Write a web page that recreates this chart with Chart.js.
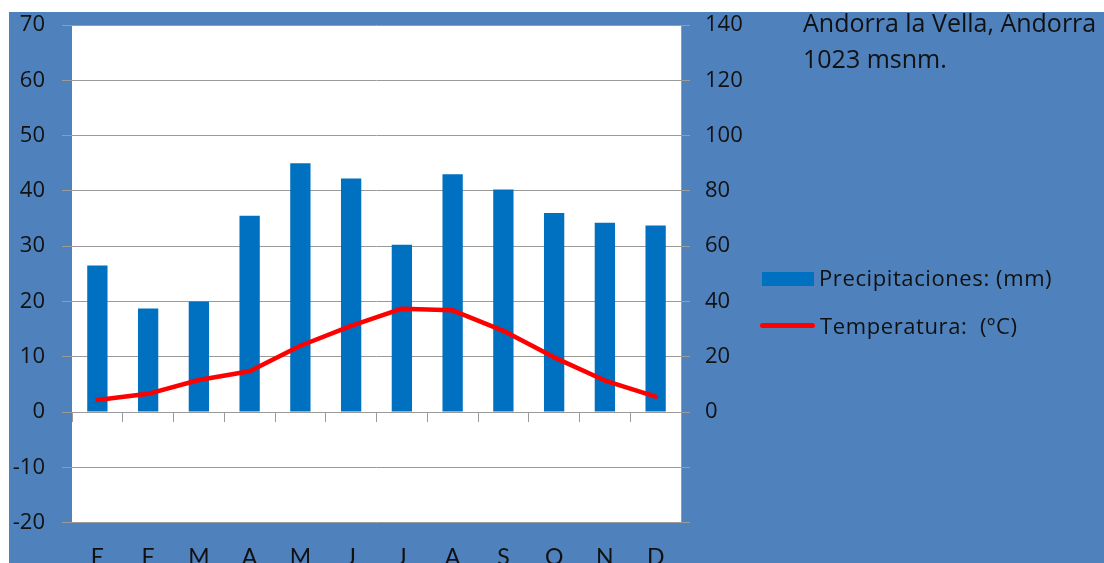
<!DOCTYPE html>
<html>
<head>
<meta charset="utf-8">
<script src="https://cdn.jsdelivr.net/npm/chart.js@4.4.0/dist/chart.umd.min.js"></script>
<style>
    body { margin: 0; background: #ffffff; width: 1104px; height: 563px; overflow: hidden; font-family: "Open Sans", Lato, sans-serif; }
    #box { position: absolute; left: 9px; top: 12px; width: 1095px; height: 551px; background: #4f81bd; overflow: hidden; }
    #title { position: absolute; left: 794px; top: -8px; font-size: 25px; line-height: 36px; color: #111; white-space: nowrap; }
    .leg { position: absolute; font-size: 22px; line-height: 26px; color: #111; white-space: pre; letter-spacing: 0.6px; }
    .swatch { position: absolute; }
</style>
</head>
<body>
<div id="box">
    <canvas id="climaChart"></canvas>
    <div id="title">Andorra la Vella, Andorra<br>1023 msnm.</div>
    <div class="swatch" style="left:753px; top:260px; width:52px; height:14px; background:#0070c0;"></div>
    <div class="leg" style="left:810px; top:252px;">Precipitaciones: (mm)</div>
    <div class="swatch" style="left:751px; top:311px; width:55px; height:5px; border-radius:3px; background:#ff0000;"></div>
    <div class="leg" style="left:811px; top:300px;">Temperatura:  (ºC)</div>
</div>
<script>
    const months = ['E', 'F', 'M', 'A', 'M', 'J', 'J', 'A', 'S', 'O', 'N', 'D'];
    const precipitaciones = [53, 37.5, 40, 71, 90, 84.5, 60.5, 86, 80.5, 72, 68.5, 67.5];
    const temperatura = [2.2, 3.3, 5.8, 7.4, 12.0, 15.6, 18.7, 18.4, 14.7, 9.9, 5.7, 2.8];

    const gridGray = '#9a9a9a';
    const textColor = '#111111';
    const tickFont = { family: 'Open Sans', size: 22 };

    // white plot area on the blue background
    const plotBackground = {
        id: 'plotBackground',
        beforeDraw(chart) {
            const { ctx, chartArea } = chart;
            ctx.save();
            ctx.fillStyle = '#ffffff';
            ctx.fillRect(chartArea.left, chartArea.top, chartArea.right - chartArea.left, chartArea.bottom - chartArea.top);
            ctx.restore();
        },
    };

    const ctx = document.getElementById('climaChart').getContext('2d');
    const chart = new Chart(ctx, {
        data: {
            labels: months,
            datasets: [
                {
                    type: 'line',
                    label: 'Temperatura:  (ºC)',
                    data: temperatura,
                    yAxisID: 'y',
                    borderColor: '#ff0000',
                    borderWidth: 4.5,
                    borderCapStyle: 'round',
                    borderJoinStyle: 'round',
                    pointRadius: 0,
                    tension: 0,
                    order: 0,
                },
                {
                    type: 'bar',
                    label: 'Precipitaciones: (mm)',
                    data: precipitaciones,
                    yAxisID: 'y1',
                    backgroundColor: '#0070c0',
                    barPercentage: 0.4,
                    categoryPercentage: 1,
                    order: 1,
                },
            ],
        },
        options: {
            responsive: true,
            maintainAspectRatio: false,
            animation: false,
            layout: { padding: { top: 13, left: 0, right: 0, bottom: 0 } },
            plugins: {
                legend: { display: false },
                tooltip: { enabled: false },
            },
            scales: {
                x: {
                    type: 'category',
                    position: 'bottom',
                    offset: true,
                    grid: { display: false, drawTicks: false, offset: true },
                    border: { display: false },
                    ticks: { color: textColor, font: { family: 'Lato', size: 23 }, padding: 21, maxRotation: 0, autoSkip: false },
                    afterFit: (scale) => { scale.height = 40.3; },
                },
                x2: {
                    type: 'category',
                    position: { y: 0 },
                    offset: true,
                    grid: { offset: true, drawOnChartArea: false, drawTicks: true, tickLength: 9, color: gridGray },
                    border: { display: true, color: gridGray },
                    ticks: { display: false },
                },
                y: {
                    position: 'left',
                    min: -20,
                    max: 70,
                    ticks: { stepSize: 10, color: textColor, font: tickFont, padding: 17 },
                    grid: { color: gridGray, tickLength: 10 },
                    border: { display: false },
                    afterFit: (scale) => {
                        scale.width = 63;
                        scale.paddingTop = 12;
                        scale.paddingBottom = 12;
                    },
                },
                y1: {
                    position: 'right',
                    min: -40,
                    max: 140,
                    ticks: {
                        stepSize: 20,
                        color: textColor,
                        font: tickFont,
                        padding: 15,
                        callback: (value) => value < 0 ? '' : value,
                    },
                    grid: { drawOnChartArea: false, tickLength: 9, color: gridGray },
                    border: { color: gridGray },
                    afterFit: (scale) => {
                        scale.width = 423;
                        scale.paddingTop = 12;
                        scale.paddingBottom = 12;
                    },
                },
            },
        },
        plugins: [plotBackground],
    });
</script>
</body>
</html>
